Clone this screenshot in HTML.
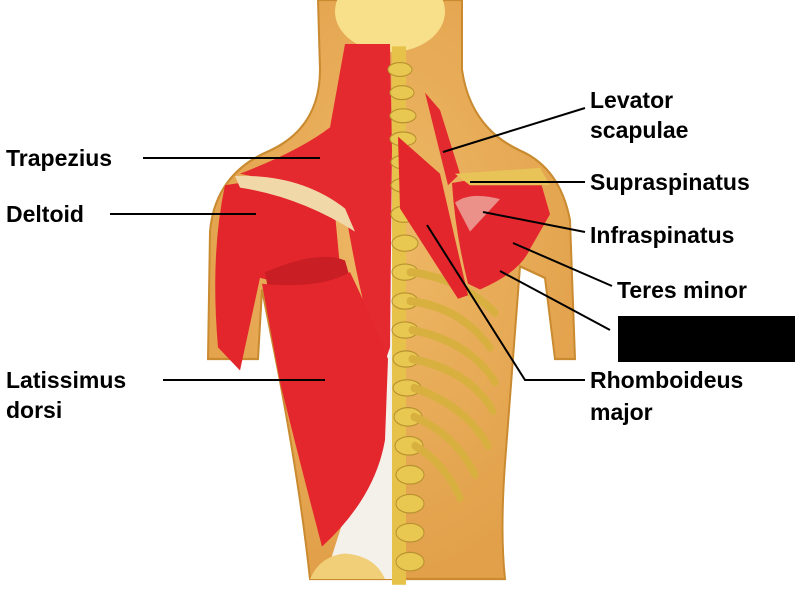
<!DOCTYPE html>
<html><head><style>
html,body{margin:0;padding:0;background:#fff;width:800px;height:607px;overflow:hidden}
svg{display:block}
text{font-family:"Liberation Sans",Arial,sans-serif;font-weight:bold;font-size:23px;fill:#000}
</style></head><body>
<svg width="800" height="607" viewBox="0 0 800 607">
<defs>
<radialGradient id="sk" cx="50%" cy="40%" r="60%"><stop offset="0" stop-color="#eeb866"/><stop offset="1" stop-color="#e2a04a"/></radialGradient>
</defs>
<g transform="scale(1,1.158)">
<path d="M318 0 L462 0 L462 60 Q470 110 520 130 Q560 145 570 190 L575 310 L555 310 L545 240 L520 230 L505 400 Q500 460 505 500 L310 500 Q300 420 278 320 L262 250 L258 310 L208 310 L210 200 Q215 150 270 130 Q320 110 320 60 Z" fill="url(#sk)" stroke="#c98a30" stroke-width="2"/>
<ellipse cx="390" cy="10" rx="55" ry="35" fill="#f8e08a"/>
<path d="M365 130 L395 130 L395 500 L325 500 Q335 470 370 380 Z" fill="#f4f0ea"/>
<path d="M345 38 L390 38 L392 130 L390 300 L382 320 Q360 260 345 180 Q300 160 240 150 Q300 130 330 110 Z" fill="#e52a2f"/>
<path d="M225 160 Q280 150 335 185 L340 230 Q300 250 260 240 L240 320 L218 300 Q210 220 225 160 Z" fill="#e3262c"/>
<path d="M265 235 Q320 215 345 225 L350 240 Q320 245 268 250 Z" fill="#c81e24"/>
<path d="M262 245 Q320 250 350 235 Q375 280 388 310 L385 380 Q375 430 322 472 Q300 400 280 330 Z" fill="#e4262d"/>
<path d="M235 152 Q300 150 345 180 L355 200 Q300 170 240 162 Z" fill="#f0d8a8"/>
<path d="M310 500 Q320 480 345 478 Q375 480 385 500 Z" fill="#f0cf78"/>
<rect x="392" y="40" width="14" height="465" fill="#e6c24a"/>
<g fill="#e8c850" stroke="#b89030" stroke-width="1">
<ellipse cx="400" cy="60" rx="12" ry="6"/><ellipse cx="402" cy="80" rx="12" ry="6"/><ellipse cx="403" cy="100" rx="13" ry="6"/>
<ellipse cx="403" cy="120" rx="13" ry="6"/><ellipse cx="404" cy="140" rx="13" ry="6"/><ellipse cx="404" cy="160" rx="13" ry="6"/>
<ellipse cx="404" cy="185" rx="13" ry="7"/><ellipse cx="405" cy="210" rx="13" ry="7"/><ellipse cx="405" cy="235" rx="13" ry="7"/>
<ellipse cx="405" cy="260" rx="13" ry="7"/><ellipse cx="405" cy="285" rx="13" ry="7"/><ellipse cx="406" cy="310" rx="13" ry="7"/>
<ellipse cx="407" cy="335" rx="14" ry="7"/><ellipse cx="408" cy="360" rx="14" ry="8"/><ellipse cx="409" cy="385" rx="14" ry="8"/>
<ellipse cx="410" cy="410" rx="14" ry="8"/><ellipse cx="410" cy="435" rx="14" ry="8"/><ellipse cx="410" cy="460" rx="14" ry="8"/><ellipse cx="410" cy="485" rx="14" ry="8"/>
</g>
<g fill="none" stroke="#d8b040" stroke-width="7" stroke-linecap="round">
<path d="M410 235 Q460 240 495 270"/><path d="M410 260 Q460 265 490 300"/><path d="M412 285 Q470 295 495 330"/>
<path d="M412 310 Q470 320 493 355"/><path d="M414 335 Q465 350 488 385"/><path d="M414 360 Q455 375 475 410"/>
<path d="M415 385 Q445 400 460 430"/>
</g>
<path d="M398 118 L440 150 L468 255 L458 258 L400 180 Z" fill="#e2262c"/>
<path d="M425 80 L440 95 L460 150 L448 160 Z" fill="#e32a2f"/>
<path d="M452 158 Q500 150 540 155 L550 185 L530 215 Q520 235 480 250 L468 245 Q455 200 452 158 Z" fill="#e2282e"/>
<path d="M455 175 Q470 165 500 172 L470 200 Z" fill="#f3d6c8" opacity="0.6"/>
<path d="M455 150 L540 145 L550 160 L470 160 Z" fill="#e8c458"/>
</g>
<g stroke="#000" stroke-width="2" fill="none">
<line x1="143" y1="158" x2="320" y2="158"/>
<line x1="110" y1="214" x2="256" y2="214"/>
<line x1="163" y1="380" x2="325" y2="380"/>
<line x1="585" y1="108" x2="443" y2="152"/>
<line x1="585" y1="182" x2="470" y2="182"/>
<line x1="585" y1="232" x2="483" y2="212"/>
<line x1="612" y1="286" x2="513" y2="243"/>
<line x1="610" y1="330" x2="500" y2="271"/>
<polyline points="585,380 525,380 427,225"/>
</g>
<text x="6" y="166">Trapezius</text>
<text x="6" y="222">Deltoid</text>
<text x="6" y="388">Latissimus</text>
<text x="6" y="418">dorsi</text>
<text x="590" y="108">Levator</text>
<text x="590" y="138">scapulae</text>
<text x="590" y="190">Supraspinatus</text>
<text x="590" y="243">Infraspinatus</text>
<text x="617" y="298">Teres minor</text>
<rect x="618" y="316" width="177" height="46" fill="#000"/>
<text x="590" y="388">Rhomboideus</text>
<text x="590" y="420">major</text>
</svg>
</body></html>
